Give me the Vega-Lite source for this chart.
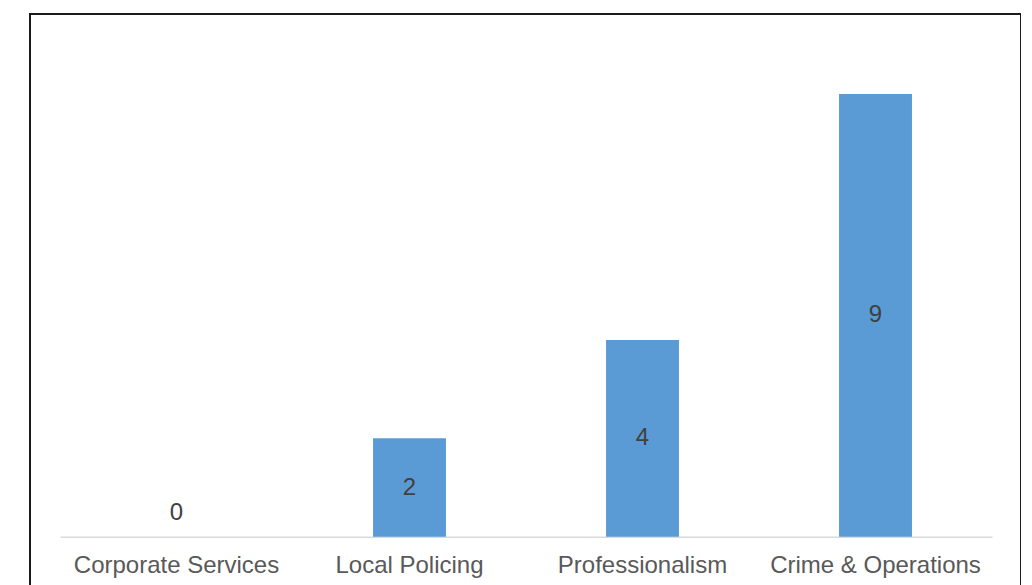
{
  "$schema": "https://vega.github.io/schema/vega-lite/v6.json",
  "autosize": {"type": "none"},
  "padding": {"left": 30, "top": 14, "right": 0, "bottom": 0},
  "width": 991,
  "height": 580,
  "background": "white",
  "config": {
    "view": {"stroke": "#1a1a1a", "strokeWidth": 2},
    "font": "Liberation Sans"
  },
  "data": {
    "values": [
      {"category": "Corporate Services", "value": 0},
      {"category": "Local Policing", "value": 2},
      {"category": "Professionalism", "value": 4},
      {"category": "Crime & Operations", "value": 9}
    ]
  },
  "encoding": {
    "x": {
      "field": "category",
      "type": "nominal",
      "sort": null,
      "scale": {"range": [30, 962], "paddingInner": 0.687, "paddingOuter": 0.3435},
      "axis": {
        "title": null,
        "labelAngle": 0,
        "ticks": false,
        "tickSize": 0,
        "offset": -57.3,
        "domainColor": "#D9D9D9",
        "domainWidth": 1.5,
        "labelFont": "Liberation Sans",
        "labelFontSize": 24,
        "labelColor": "#595959",
        "labelBaseline": "alphabetic",
        "labelPadding": 36,
        "labelLimit": 0,
        "labelOverlap": false,
        "grid": false
      }
    }
  },
  "layer": [
    {
      "mark": {"type": "bar", "color": "#5B9BD5"},
      "encoding": {
        "y": {
          "field": "value",
          "type": "quantitative",
          "scale": {"domain": [0, 10], "range": [522.7, 30.7], "nice": false},
          "axis": null
        }
      }
    },
    {
      "transform": [{"filter": "datum.value > 0"}, {"calculate": "datum.value / 2", "as": "mid"}],
      "mark": {"type": "text", "baseline": "middle", "align": "center", "fontSize": 24, "color": "#404040", "font": "Liberation Sans"},
      "encoding": {
        "y": {"field": "mid", "type": "quantitative", "scale": {"domain": [0, 10], "range": [522.7, 30.7], "nice": false}, "axis": null},
        "text": {"field": "value", "type": "quantitative"}
      }
    },
    {
      "transform": [{"filter": "datum.value == 0"}],
      "mark": {"type": "text", "baseline": "alphabetic", "align": "center", "fontSize": 24, "color": "#404040", "font": "Liberation Sans", "dy": -16.5},
      "encoding": {
        "y": {"field": "value", "type": "quantitative", "scale": {"domain": [0, 10], "range": [522.7, 30.7], "nice": false}, "axis": null},
        "text": {"field": "value", "type": "quantitative"}
      }
    }
  ]
}
